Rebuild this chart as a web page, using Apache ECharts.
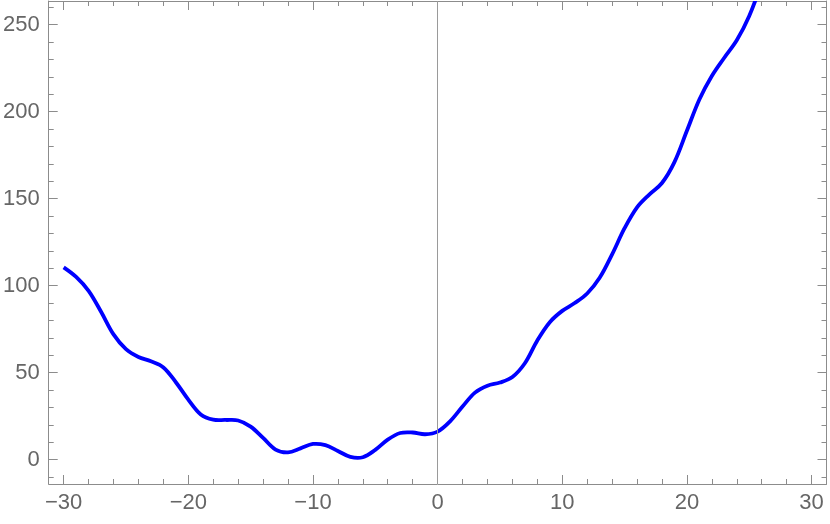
<!DOCTYPE html>
<html>
<head>
<meta charset="utf-8">
<script src="https://cdn.jsdelivr.net/npm/echarts@6/dist/echarts.min.js"></script>
<style>
html,body{margin:0;padding:0;background:#fff;}
#c{width:830px;height:524px;}
</style>
</head>
<body>
<div id="c"></div>
<script>
// Curve samples
var xs = [-30, -29, -28, -27, -26, -25, -24, -23, -22, -21, -20, -19, -18, -17, -16, -15, -14, -13, -12, -11, -10, -9, -8, -7, -6, -5, -4, -3, -2, -1, 0, 1, 2, 3, 4, 5, 6, 7, 8, 9, 10, 11, 12, 13, 14, 15, 16, 17, 18, 19, 20, 21, 22, 23, 24, 25, 26];
var ys = [110.5, 105, 97, 85, 72, 63.5, 59, 56.5, 53, 44.5, 34.5, 26, 23, 22.8, 22.5, 19, 12.5, 5.8, 4.2, 6.5, 9, 8.3, 5, 1.6, 1.4, 5.6, 11.5, 15.3, 15.6, 14.6, 16.1, 22, 30.5, 38.5, 42.5, 44.3, 47.5, 55.4, 68.5, 79, 85.5, 90, 95.5, 104.5, 118, 133, 145, 152.5, 159, 171, 189, 207, 220.5, 231, 241, 255, 274];

var xMajor = [-30, -20, -10, 0, 10, 20, 30];
var xMinor = [-28, -26, -24, -22, -18, -16, -14, -12, -8, -6, -4, -2, 2, 4, 6, 8, 12, 14, 16, 18, 22, 24, 26, 28];
var yMajor = [0, 50, 100, 150, 200, 250];
var yMinor = [-10, 10, 20, 30, 40, 60, 70, 80, 90, 110, 120, 130, 140, 160, 170, 180, 190, 210, 220, 230, 240, 260];

var X_MIN = -31.2, X_MAX = 31.2, Y_MIN = -14, Y_MAX = 263.6;

var data = xs.map(function (x, i) { return [x, ys[i]]; });

var frameColor = '#8c8c8c';
var labelColor = '#666666';
var fmt = function (v) { return String(v).replace('-', '\u2212'); };

function mkAxis(pos, ticks, len, showLine, labels, isX) {
  return {
    type: 'value',
    position: pos,
    min: isX ? X_MIN : Y_MIN,
    max: isX ? X_MAX : Y_MAX,
    splitLine: { show: false },
    axisLine: { show: showLine, onZero: false, lineStyle: { color: frameColor, width: 1 } },
    axisTick: { show: true, inside: true, length: len, customValues: ticks, lineStyle: { color: frameColor, width: 1 } },
    axisLabel: labels ? {
      show: true, customValues: ticks, formatter: fmt, color: labelColor,
      fontFamily: 'Liberation Sans, Arial, sans-serif', fontSize: 22, margin: isX ? 8 : 9
    } : { show: false }
  };
}

var chart = echarts.init(document.getElementById('c'), null, { renderer: 'canvas' });
chart.setOption({
  animation: false,
  backgroundColor: '#ffffff',
  grid: { left: 46, right: 3.5, top: 1, bottom: 40, containLabel: false },
  xAxis: [
    mkAxis('bottom', xMajor, 9, true, true, true),
    mkAxis('bottom', xMinor, 5, false, false, true),
    mkAxis('top', xMajor, 9, true, false, true),
    mkAxis('top', xMinor, 5, false, false, true)
  ],
  yAxis: [
    mkAxis('left', yMajor, 9, true, true, false),
    mkAxis('left', yMinor, 5, false, false, false),
    mkAxis('right', yMajor, 9, true, false, false),
    mkAxis('right', yMinor, 5, false, false, false)
  ],
  series: [{
    type: 'line',
    xAxisIndex: 0,
    yAxisIndex: 0,
    data: [],
    showSymbol: false,
    markLine: {
      silent: true,
      symbol: ['none', 'none'],
      label: { show: false },
      lineStyle: { color: '#9a9a9a', width: 1, type: 'solid' },
      data: [{ xAxis: 0 }]
    },
    z: 1
  }, {
    type: 'custom',
    xAxisIndex: 0,
    yAxisIndex: 0,
    data: data,
    clip: true,
    silent: true,
    z: 3,
    renderItem: function (params, api) {
      if (params.dataIndex !== 0) return null;
      var pts = xs.map(function (x, i) { return api.coord([x, ys[i]]); });
      var cs = params.coordSys;
      return {
        type: 'polyline',
        shape: { points: pts, smooth: 0.35 },
        style: { stroke: '#0000ff', lineWidth: 3.8, fill: null, lineJoin: 'round', lineCap: 'butt' },
        clipPath: { type: 'rect', shape: { x: cs.x, y: cs.y, width: cs.width, height: cs.height } }
      };
    }
  }]
});
</script>
</body>
</html>
